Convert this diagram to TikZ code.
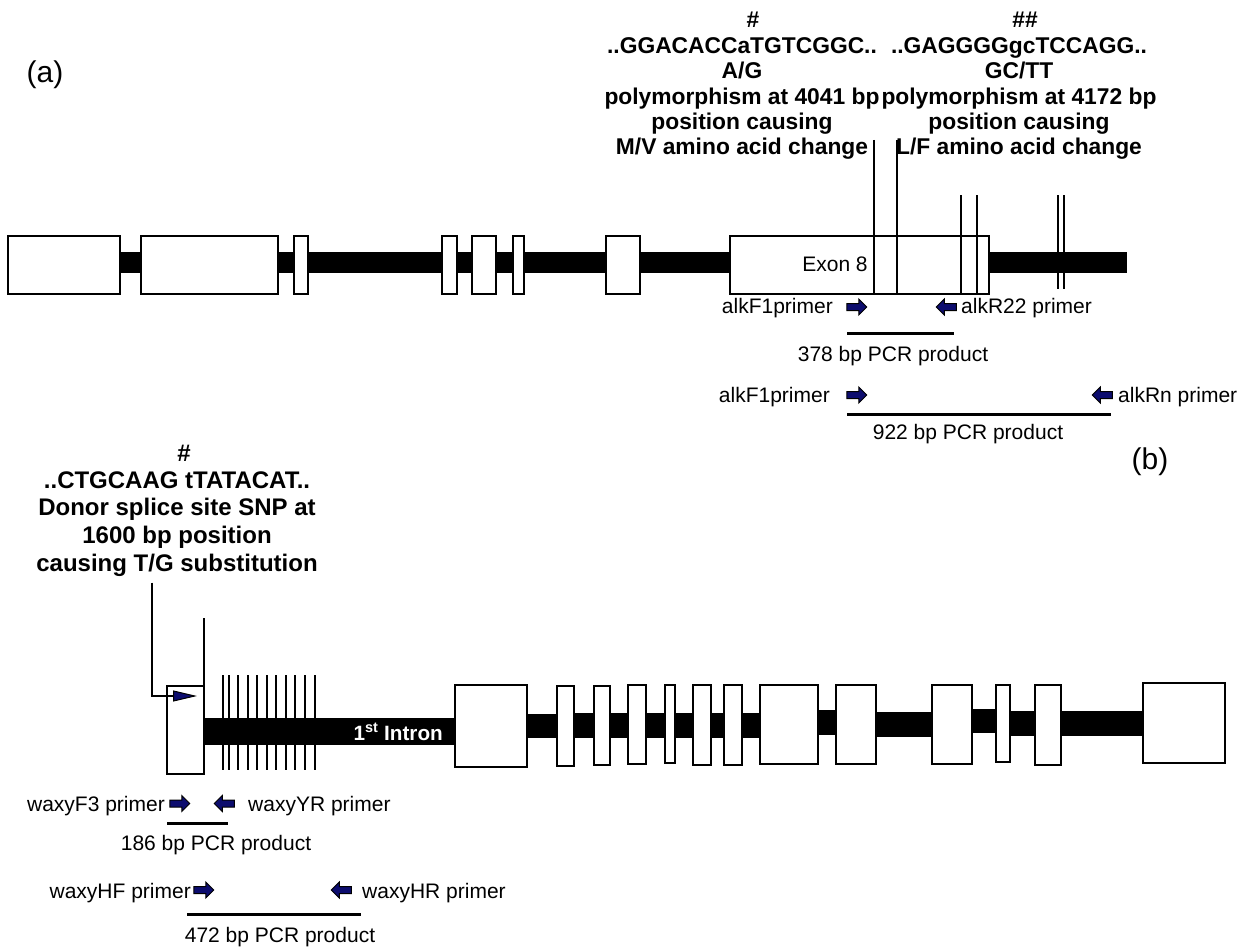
\documentclass[tikz,border=0pt]{standalone}
\usepackage{fontspec}
\setmainfont{Liberation Sans}
\usetikzlibrary{arrows.meta,shapes.arrows}
\definecolor{primerblue}{RGB}{12,12,110}

\begin{document}
\begin{tikzpicture}[x=1pt,y=-1pt,
  exon/.style={draw,line width=2.2pt,fill=white},
  snpline/.style={line width=1.5pt},
  pcr/.style={line width=3pt},
  lbl/.style={inner sep=0pt,font=\fontsize{21}{25}\selectfont},
  tag/.style={inner sep=0pt,font=\fontsize{30}{36}\selectfont},
  note/.style={inner sep=0pt,align=center,font=\bfseries\fontsize{22.8}{25.2}\selectfont},
  fwd/.style={single arrow,draw=black,fill=primerblue,line width=1pt,minimum height=20pt,
    inner xsep=0pt,inner ysep=3pt,single arrow head extend=4.5pt},
  rev/.style={fwd,shape border rotate=180}]
\useasboundingbox (0,0) rectangle (1256,947);
\node[tag] (tagA) at (45,75) {(a)};
\node[tag] (tagB) at (1150,462) {(b)};
\node[note] (hashA) at (753,20) {\#};
\node[note] (snpA) at (742,98.5) {..GGACACCaTGTCGGC..\\A/G\\polymorphism at 4041 bp\\position causing\\M/V amino acid change};
\node[note] (hashB) at (1025,20) {\#\#};
\node[note] (snpB) at (1019,98.5) {..GAGGGGgcTCCAGG..\\GC/TT\\polymorphism at 4172 bp\\position causing\\L/F amino acid change};
\fill (118,252) rectangle (1127,273);
\foreach \a/\b in {8/120,141/278,294/308,442/457,472/496,513/524,606/640,730/989}{
  \draw[exon] (\a,236) rectangle (\b,294);}
\node[lbl] (exon8) at (835,264) {Exon 8};
\foreach \x/\t in {874/140,897/140,961/195,977/195}{
  \draw[snpline] (\x,\t) -- (\x,294);}
\foreach \x in {1058,1064}{
  \draw[snpline] (\x,195) -- (\x,289);}
\node[fwd] (alkF) at (855,307) {};
\node[rev] (alkR) at (948,307) {};
\node[lbl,anchor=east] (alkFlbl) at (833,308) {alkF1primer};
\node[lbl,anchor=west] (alkRlbl) at (961,308) {alkR22 primer};
\draw[pcr] (847,333) -- (954,333);
\node[lbl] (pcrS) at (893,356) {378 bp PCR product};
\node[fwd] (alkFn) at (855,395) {};
\node[rev] (alkRn) at (1104,395) {};
\node[lbl,anchor=east] (alkFnlbl) at (830,397) {alkF1primer};
\node[lbl,anchor=west] (alkRnlbl) at (1118,397) {alkRn primer};
\draw[pcr] (847,414) -- (1111,414);
\node[lbl] (pcrL) at (968,434) {922 bp PCR product};
\node[note,font=\bfseries\fontsize{24}{27.7}\selectfont] (hashC) at (184,453) {\#};
\node[note,font=\bfseries\fontsize{24}{27.7}\selectfont] (snpC) at (177,524) {..CTGCAAG tTATACAT..\\Donor splice site SNP at\\1600 bp position\\causing T/G substitution};
\foreach \a/\b/\c/\d in {204/455/718/745,527/557/714/738,557/760/713/738,818/836/710/735,876/932/712/737,972/996/709/733,1010/1035/711/736,1061/1143/711/736}{
  \fill (\a,\c) rectangle (\b,\d);}
\draw[exon] (167,686) rectangle (204,774);
\draw[line width=2.2pt] (204,618) -- (204,686);
\foreach \a/\b/\t/\u in {455/527/685/767,557/574/686/766,594/610/686/765,628/646/685/764,665/675/685/763,693/711/685/765,724/742/685/765,760/818/685/764,836/876/685/764,932/972/685/764,996/1010/685/762,1035/1061/685/765,1143/1225/683/763}{
  \draw[exon] (\a,\t) rectangle (\b,\u);}
\foreach \x in {223,229,238,248,257,267,276,286,295,305,315}{
  \draw[line width=2pt] (\x,675) -- (\x,770);}
\node[lbl,anchor=east,text=white,font=\bfseries\fontsize{20.7}{24}\selectfont] (intron) at (443,732) {1\textsuperscript{st} Intron};
\coordinate (donor) at (197,696);
\draw[line width=2.8pt,-{Triangle[length=24pt,width=11pt,line width=1pt,fill=primerblue]}]
  ([xshift=-25pt,yshift=-6pt]snpC.south) |- (donor);
\node[fwd] (wF3) at (178,803.5) {};
\node[rev] (wYR) at (226,803.5) {};
\node[lbl,anchor=east] (wF3lbl) at (165,806) {waxyF3 primer};
\node[lbl,anchor=west] (wYRlbl) at (248,806) {waxyYR primer};
\draw[pcr] (167,823) -- (228,823);
\node[lbl] (pcrW) at (216,845) {186 bp PCR product};
\node[fwd] (wHF) at (202,890) {};
\node[rev] (wHR) at (343,890) {};
\node[lbl,anchor=east] (wHFlbl) at (191,893) {waxyHF primer};
\node[lbl,anchor=west] (wHRlbl) at (362,893) {waxyHR primer};
\draw[pcr] (187,914) -- (361,914);
\node[lbl] (pcrH) at (280,937) {472 bp PCR product};
\end{tikzpicture}
\end{document}
